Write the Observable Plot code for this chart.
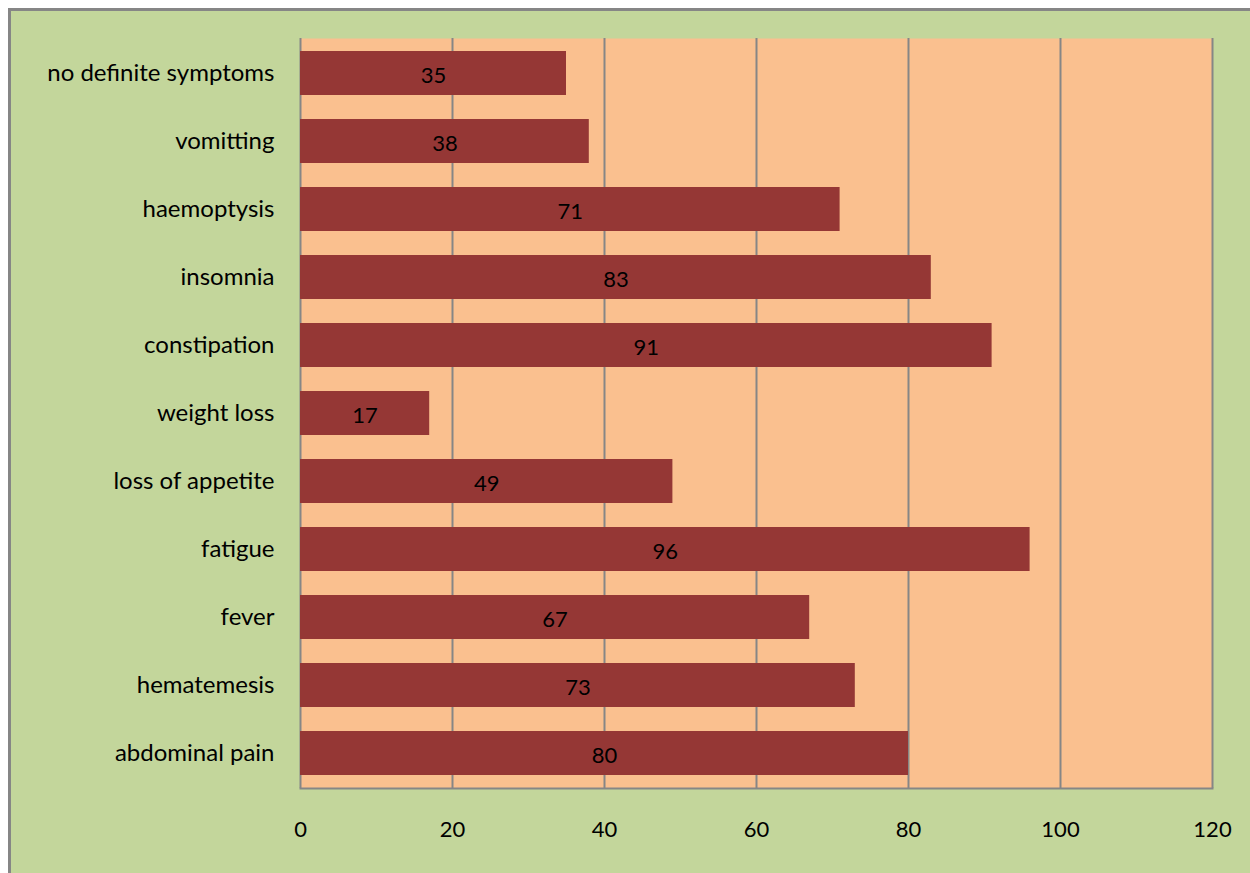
<!DOCTYPE html>
<html>
<head>
<meta charset="utf-8">
<script src="https://cdn.jsdelivr.net/npm/d3@7"></script>
<script src="https://cdn.jsdelivr.net/npm/@observablehq/plot@0.6"></script>
<style>
  html, body { margin: 0; padding: 0; background: #ffffff; }
  #bg { position: absolute; left: 8px; top: 8px; width: 1260px; height: 880px;
        background: #c3d69b; border-left: 3px solid #868686; border-top: 3px solid #868686; }
  #chart { position: absolute; left: 0; top: 0; }
</style>
</head>
<body>
<div id="bg"></div>
<div id="chart"></div>
<script>
const categories = ["no definite symptoms", "vomitting", "haemoptysis", "insomnia", "constipation",
  "weight loss", "loss of appetite", "fatigue", "fever", "hematemesis", "abdominal pain"];
const values = [35, 38, 71, 83, 91, 17, 49, 96, 67, 73, 80];
const xTicks = [0, 20, 40, 60, 80, 100, 120];

const data = categories.map((c, i) => ({category: c, value: values[i]}));

const font = "Lato, 'Open Sans', sans-serif";
const chart = Plot.plot({
  width: 1250,
  height: 873,
  marginLeft: 300,
  marginRight: 38,
  marginTop: 38,
  marginBottom: 85,
  style: {background: "transparent", fontFamily: font, fontSize: "23px", color: "#000"},
  x: {domain: [0, 120], ticks: xTicks, label: null},
  y: {domain: categories, label: null, paddingInner: 0.35, paddingOuter: 0.175},
  marks: [
    Plot.frame({fill: "#fac08f", stroke: null}),
    Plot.ruleX(xTicks, {stroke: "#868686", strokeWidth: 2, strokeOpacity: 1}),
    Plot.barX(data, {x: "value", y: "category", fill: "#953735"}),
    Plot.text(data, {x: d => d.value / 2, y: "category", text: d => String(d.value),
      fill: "#000", fontSize: 22, dy: 2}),
    Plot.frame({anchor: "bottom", stroke: "#868686", strokeWidth: 2}),
    Plot.axisX({ticks: xTicks, tickSize: 0, tickPadding: 33, fontSize: 22, fill: "#000", label: null}),
    Plot.axisY({tickSize: 0, tickPadding: 26, fontSize: 24, fill: "#000", label: null})
  ]
});
document.getElementById("chart").appendChild(chart);
</script>
</body>
</html>
